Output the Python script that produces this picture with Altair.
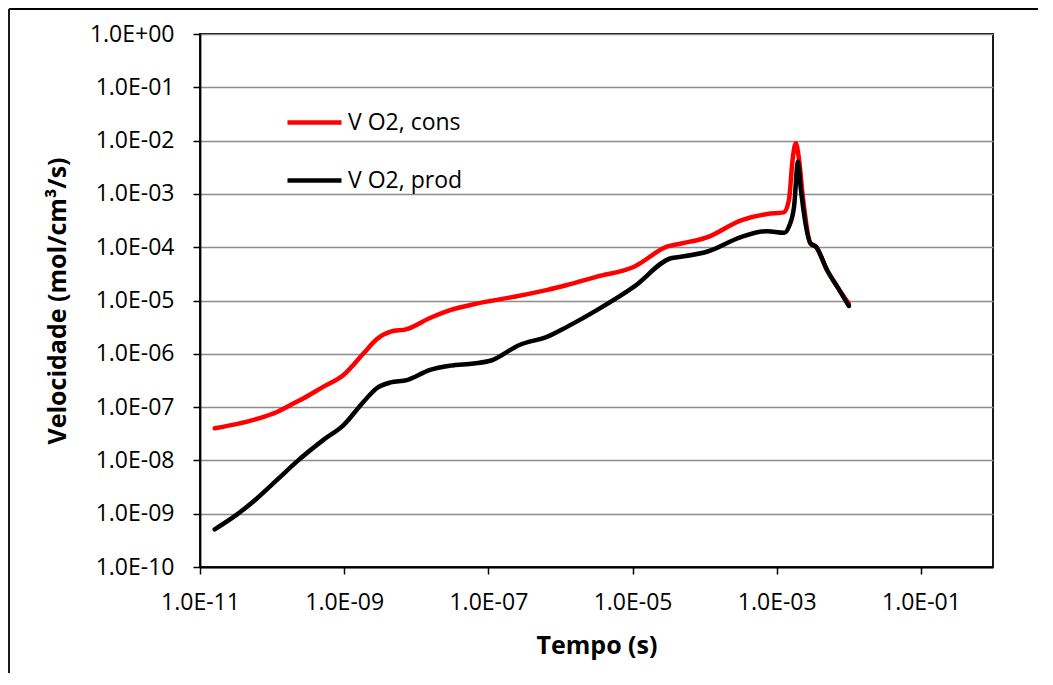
import json
import altair as alt
import pandas as pd

# ---- data ----
T_CONS = [1.6e-11, 3.2e-11, 6.2e-11, 1.17e-10, 2.2e-10, 2.7e-10, 5.1e-10, 9.8e-10,
          1.86e-9, 2.8e-9, 4.4e-9, 7.4e-9, 1.55e-8, 2.95e-8, 6.3e-8, 1.07e-7,
          2.2e-7, 6.6e-7, 1.23e-6, 3.2e-6, 1.05e-5, 3.0e-5, 4.7e-5, 1.1e-4,
          3.2e-4, 7.4e-4, 1.26e-3, 1.48e-3, 1.66e-3, 1.84e-3, 2.04e-3, 2.3e-3,
          2.95e-3, 3.5e-3, 5.0e-3, 6.9e-3, 1.0e-2]
V_CONS = [4.0e-8, 4.8e-8, 6.0e-8, 8.1e-8, 1.26e-7, 1.45e-7, 2.4e-7, 4.0e-7,
          1.02e-6, 1.86e-6, 2.6e-6, 2.9e-6, 4.7e-6, 6.6e-6, 8.5e-6, 9.8e-6,
          1.17e-5, 1.58e-5, 1.95e-5, 2.8e-5, 4.3e-5, 1.02e-4, 1.17e-4, 1.55e-4,
          3.2e-4, 4.2e-4, 4.5e-4, 7.8e-4, 4.4e-3, 8.9e-3, 4.4e-3, 8.9e-4,
          1.17e-4, 1.02e-4, 3.7e-5, 1.82e-5, 8.7e-6]

T_PROD = [1.6e-11, 3.2e-11, 6.2e-11, 1.17e-10, 2.2e-10, 5.1e-10, 9.8e-10,
          1.86e-9, 2.8e-9, 4.4e-9, 7.4e-9, 1.55e-8, 2.95e-8, 6.3e-8, 1.07e-7,
          2.75e-7, 6.6e-7, 1.23e-6, 3.2e-6, 1.05e-5, 3.4e-5, 4.7e-5, 1.1e-4,
          3.2e-4, 7.4e-4, 1.26e-3, 1.48e-3, 1.74e-3, 1.97e-3, 2.14e-3,
          2.95e-3, 3.5e-3, 5.0e-3, 6.9e-3, 1.0e-2]
V_PROD = [5.1e-10, 9.5e-10, 1.95e-9, 4.3e-9, 9.5e-9, 2.4e-8, 4.6e-8,
          1.26e-7, 2.24e-7, 2.9e-7, 3.2e-7, 5.0e-7, 6.0e-7, 6.6e-7, 7.4e-7,
          1.48e-6, 2.1e-6, 3.2e-6, 6.6e-6, 1.82e-5, 6.2e-5, 6.6e-5, 8.3e-5,
          1.55e-4, 2.0e-4, 1.86e-4, 2.45e-4, 5.8e-4, 4.0e-3, 1.38e-3,
          1.17e-4, 1.02e-4, 3.7e-5, 1.82e-5, 7.9e-6]

SERIES = ["V O2, cons", "V O2, prod"]
COLORS = ["#FF0000", "#000000"]

X_EXPS = [-11, -9, -7, -5, -3, -1]
X_LABELS = ["1.0E-11", "1.0E-09", "1.0E-07", "1.0E-05", "1.0E-03", "1.0E-01"]
Y_EXPS = [0, -1, -2, -3, -4, -5, -6, -7, -8, -9, -10]
Y_LABELS = ["1.0E+00", "1.0E-01", "1.0E-02", "1.0E-03", "1.0E-04", "1.0E-05",
            "1.0E-06", "1.0E-07", "1.0E-08", "1.0E-09", "1.0E-10"]

X_TITLE = "Tempo (s)"
Y_TITLE = "Velocidade (mol/cm³/s)"

# ---- table ----
rows = []
for t, v in zip(T_CONS, V_CONS):
    rows.append({"t": t, "v": v, "s": SERIES[0], "o": 0})
for t, v in zip(T_PROD, V_PROD):
    rows.append({"t": t, "v": v, "s": SERIES[1], "o": 1})
df = pd.DataFrame(rows)
df["i"] = range(len(df))

x_ticks = [10.0 ** e for e in X_EXPS]
y_ticks = [10.0 ** e for e in Y_EXPS]


def label_expr(exps, labels):
    return (f"{json.dumps(labels)}[indexof({json.dumps(exps)}, "
            f"round(log(datum.value)/LN10))]")


FONT = "Open Sans"
W, H = 793, 533
PL, PT, PR, PB = 192, 26, 45, 106

lines = alt.Chart(df).mark_line(strokeWidth=4.5, strokeCap="round",
                                 strokeJoin="round", interpolate="monotone").encode(
    x=alt.X("t:Q",
            scale=alt.Scale(type="log", domain=[1e-11, 1], nice=False),
            axis=alt.Axis(values=x_ticks, labelExpr=label_expr(X_EXPS, X_LABELS),
                          grid=False, title=X_TITLE,
                          titleX=W / 2, titleY=78, titleBaseline="middle",
                          labelPadding=17, labelBaseline="top")),
    y=alt.Y("v:Q",
            scale=alt.Scale(type="log", domain=[1e-10, 1], nice=False),
            axis=alt.Axis(values=y_ticks, labelExpr=label_expr(Y_EXPS, Y_LABELS),
                          grid=True, title=Y_TITLE,
                          titleX=-143, titleY=H / 2, titleAngle=270,
                          titleBaseline="middle", titleAlign="center",
                          labelPadding=19)),
    color=alt.Color("s:N",
                    scale=alt.Scale(domain=SERIES, range=COLORS),
                    legend=alt.Legend(title=None, orient="none", legendX=85, legendY=59,
                                      symbolType="stroke", symbolSize=2916,
                                      symbolStrokeWidth=4.5, labelOffset=4,
                                      rowPadding=16, padding=0,
                                      labelFont=FONT, labelFontSize=23,
                                      labelColor="#000000")),
    detail="s:N",
    order="i:Q",
)

frame_data = alt.Data(values=[{"k": 1}])
frame_left = alt.Chart(frame_data).mark_rule(color="#000000", strokeWidth=1.8).encode(
    x=alt.value(-PL + 1), y=alt.value(-PT + 1), y2=alt.value(H + PB + 20))
frame_top = alt.Chart(frame_data).mark_rule(color="#000000", strokeWidth=1.8).encode(
    x=alt.value(-PL + 1), x2=alt.value(W + PR + 20), y=alt.value(-PT + 1))

chart = alt.layer(lines, frame_left, frame_top).properties(
    width=W, height=H,
    autosize=alt.AutoSizeParams(type="none"),
    padding={"left": PL, "top": PT, "right": PR, "bottom": PB},
    background="#FFFFFF",
).configure_view(
    stroke="#000000", strokeWidth=1.8
).configure_axis(
    domainColor="#000000", domainWidth=1.8,
    tickColor="#000000", tickWidth=1.5, tickSize=7,
    gridColor="#8C8C8C", gridWidth=1.6,
    labelFont=FONT, labelFontSize=23, labelColor="#000000",
    titleFont=FONT, titleFontSize=25, titleFontWeight="bold", titleColor="#000000",
    labelFlush=False, labelOverlap=False,
)

chart.save("out.html", embed_options={"renderer": "svg", "actions": False})
